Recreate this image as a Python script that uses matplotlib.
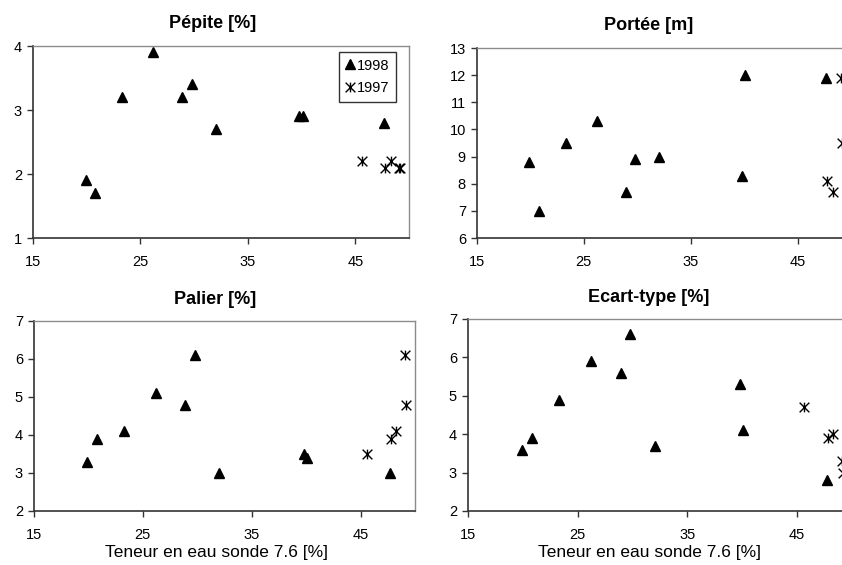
import matplotlib

matplotlib.use("Agg")
import matplotlib.pyplot as plt  # noqa: E402
import numpy as np  # noqa: E402
from matplotlib.path import Path  # noqa: E402

plt.rcParams["font.family"] = ["Liberation Sans", "DejaVu Sans"]

# ---- data ----
x98 = [19.9, 20.8, 23.3, 26.2, 28.9, 29.8, 32.0, 39.8, 40.1, 47.7]
x97 = [45.6, 47.8, 48.3, 49.1, 49.2]

pepite98 = [1.9, 1.7, 3.2, 3.9, 3.2, 3.4, 2.7, 2.9, 2.9, 2.8]
pepite97 = [2.2, 2.1, 2.2, 2.1, 2.1]
portee98 = [8.8, 7.0, 9.5, 10.3, 7.7, 8.9, 9.0, 8.3, 12.0, 11.9]
portee97 = [np.nan, 8.1, 7.7, 11.9, 9.5]
palier98 = [3.3, 3.9, 4.1, 5.1, 4.8, 6.1, 3.0, 3.5, 3.4, 3.0]
palier97 = [3.5, 3.9, 4.1, 6.1, 4.8]
ecart98 = [3.6, 3.9, 4.9, 5.9, 5.6, 6.6, 3.7, 5.3, 4.1, 2.8]
ecart97 = [4.7, 3.9, 4.0, 3.3, 3.0]

titles = ["Pépite [%]", "Portée [m]", "Palier [%]", "Ecart-type [%]"]
xlabel = "Teneur en eau sonde 7.6 [%]"
xticks = [15, 25, 35, 45]

W, H = 842, 565
fig = plt.figure(figsize=(W / 100, H / 100), dpi=100)
fig.patch.set_facecolor("white")

# Excel "star" marker: an X with a vertical bar
STAR = Path(
    [(-1, -1), (1, 1), (-1, 1), (1, -1), (0, -1), (0, 1)],
    [Path.MOVETO, Path.LINETO, Path.MOVETO, Path.LINETO, Path.MOVETO, Path.LINETO],
)


def px_axes(l, r, t, b):
    # pixel box (y from top) -> figure fraction
    return fig.add_axes([l / W, 1 - b / H, (r - l) / W, (b - t) / H])


panels = [
    # (box l, r, t, b), ylim, title pos, data
    ((33, 409, 46, 238), (1, 4), (213, 24), pepite98, pepite97, False),
    ((477, 851, 48, 238), (6, 13), (649, 25), portee98, portee97, False),
    ((34, 415, 321, 511), (2, 7), (215, 299), palier98, palier97, True),
    ((468, 852, 319, 511), (2, 7), (649, 298), ecart98, ecart97, True),
]

axes = []
for i, (box, ylim, tpos, y98, y97, bottom) in enumerate(panels):
    ax = px_axes(*box)
    axes.append(ax)
    ax.plot(x98, y98, ls="none", marker="^", ms=7.5, color="black", label="1998")
    ax.plot(x97, y97, ls="none", marker=STAR, ms=7, mew=1.0, color="black",
            mfc="none", label="1997")
    ax.set_xlim(15, 50)
    ax.set_ylim(*ylim)
    ax.set_xticks(xticks)
    ax.set_yticks(range(ylim[0], ylim[1] + 1))
    ax.tick_params(direction="out", length=4, width=1, labelsize=10.5,
                   color="#333333")
    ax.tick_params(axis="x", pad=8)
    ax.tick_params(axis="y", pad=4)
    for s in ("left", "bottom"):
        ax.spines[s].set_color("#333333")
        ax.spines[s].set_linewidth(1.2)
    for s in ("top", "right"):
        ax.spines[s].set_color("#8c8c8c")
        ax.spines[s].set_linewidth(1.0)
    fig.text(tpos[0] / W, 1 - tpos[1] / H, titles[i], ha="center", va="center",
             fontsize=13, fontweight="bold")
    if bottom:
        fig.text((box[0] + 182) / W, 1 - 552 / H, xlabel, ha="center", va="center",
                 fontsize=12.5)

leg = axes[0].legend(
    loc="upper left", bbox_to_anchor=(339 / W, 1 - 52 / H), bbox_transform=fig.transFigure,
    frameon=True, fancybox=False, fontsize=10.5, handlelength=0.6, handletextpad=0.2,
    borderpad=0.45, labelspacing=0.6, borderaxespad=0,
)
leg.get_frame().set_edgecolor("black")
leg.get_frame().set_linewidth(1.0)

fig.savefig("out.png", dpi=100)
